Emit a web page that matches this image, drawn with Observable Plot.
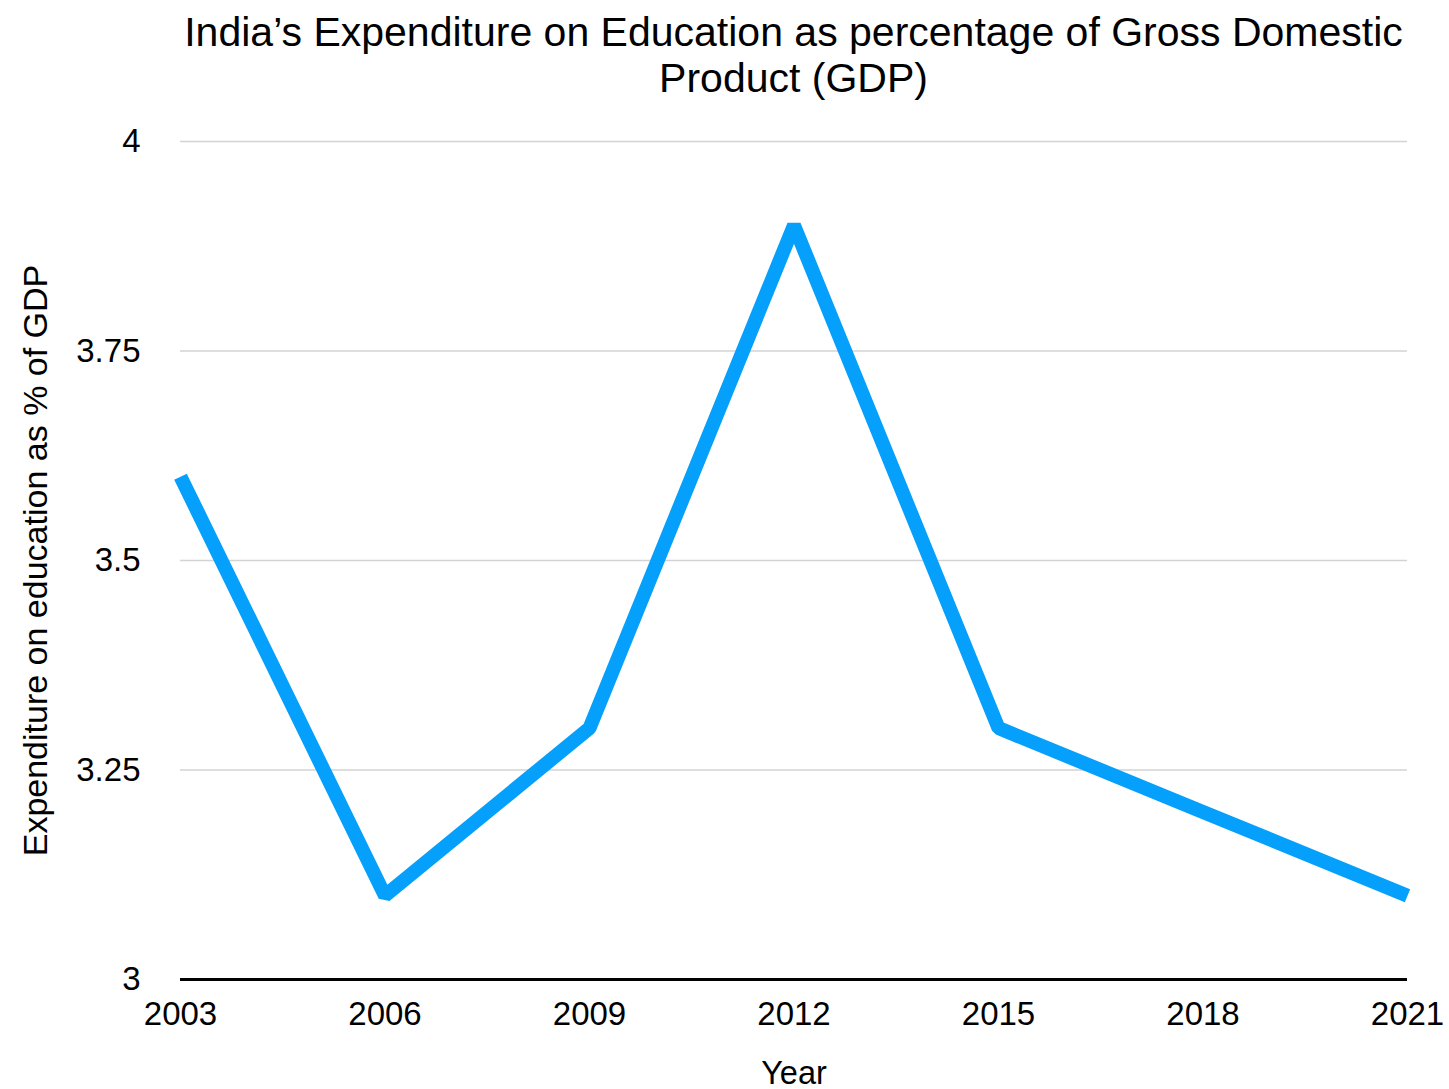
<!DOCTYPE html>
<html>
<head>
<meta charset="utf-8">
<script src="https://cdn.jsdelivr.net/npm/d3@7"></script>
<script src="https://cdn.jsdelivr.net/npm/@observablehq/plot@0.6"></script>
<style>
  html, body { margin: 0; padding: 0; background: #fff; }
  #wrap { width: 1449px; height: 1089px; position: relative; overflow: hidden; font-family: "Liberation Sans", Arial, sans-serif; }
  #title { position: absolute; left: 150px; width: 1287px; top: 9px; text-align: center; font-size: 41px; line-height: 46px; color: #000; }
  #chart { position: absolute; left: 0; top: 102px; }
</style>
</head>
<body>
<div id="wrap">
  <div id="title">India’s Expenditure on Education as percentage of Gross Domestic<br>Product (GDP)</div>
  <div id="chart"></div>
</div>
<script>
const years = [2003, 2006, 2009, 2012, 2015, 2018, 2021];
const values = [3.6, 3.1, 3.3, 3.9, 3.3, 3.2, 3.1];
const yTicks = [3, 3.25, 3.5, 3.75, 4];
const gridTicks = [3.25, 3.5, 3.75, 4];
const data = years.map((year, i) => ({year, value: values[i]}));

const plot = Plot.plot({
  width: 1449,
  height: 987,
  marginLeft: 180,
  marginRight: 42,
  marginTop: 39,
  marginBottom: 110,
  style: { fontFamily: "Liberation Sans, Arial, sans-serif", fontSize: "33px", color: "#000", background: "#fff" },
  x: { domain: [2003, 2021], ticks: years, tickFormat: d => String(d), tickSize: 0, tickPadding: 22, label: "Year", labelArrow: false, labelAnchor: "center", labelOffset: 104 },
  y: { domain: [3, 4], ticks: yTicks, tickFormat: d => String(d), tickSize: 0, tickPadding: 40, label: "Expenditure on education as % of GDP", labelArrow: false, labelAnchor: "center", labelOffset: 158 },
  marks: [
    Plot.ruleY(gridTicks, { stroke: "#d3d3d3", strokeWidth: 1.5 }),
    Plot.ruleY([3], { stroke: "#000", strokeWidth: 3 }),
    Plot.line(data, { x: "year", y: "value", stroke: "#05a0fb", strokeWidth: 14, strokeLinecap: "butt", strokeLinejoin: "miter" })
  ]
});
document.getElementById("chart").appendChild(plot);
plot.querySelectorAll("g[aria-label='x-axis label'] text").forEach(t => t.style.fontSize = "32.5px");
plot.querySelectorAll("g[aria-label='y-axis label'] text").forEach(t => t.style.fontSize = "34px");
</script>
</body>
</html>
